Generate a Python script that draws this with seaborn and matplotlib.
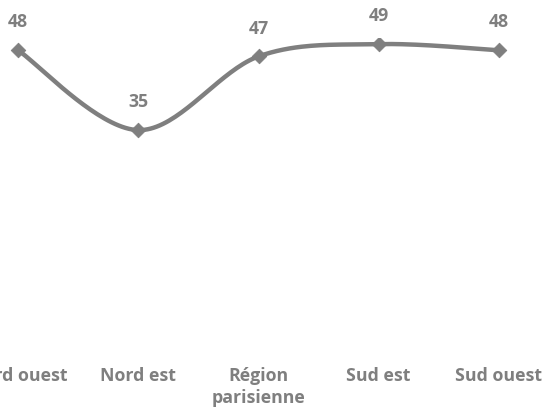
import numpy as np
import pandas as pd
import matplotlib
matplotlib.use("Agg")
import matplotlib.pyplot as plt
import seaborn as sns

categories = ["Nord ouest", "Nord est", "Région\nparisienne", "Sud est", "Sud ouest"]
values = [48, 35, 47, 49, 48]

sns.set_theme(style="white")
plt.rcParams['font.family'] = ['Open Sans', 'DejaVu Sans']
GRAY = "#7f7f7f"

W, H = 544, 411
fig = plt.figure(figsize=(W / 100, H / 100), dpi=100)
left_px, right_px = -42, 559
top_px, bottom_px = 38, 345
ax = fig.add_axes([left_px / W, 1 - bottom_px / H, (right_px - left_px) / W, (bottom_px - top_px) / H])

x = np.arange(len(values), dtype=float)
y = np.array(values, dtype=float)

# Bezier smoothing (Excel-like) computed from the data
xs, ys = [], []
P = np.column_stack([x, y])
n = len(P)
for i in range(n - 1):
    p0 = P[i - 1] if i > 0 else P[i]
    p1 = P[i]
    p2 = P[i + 1]
    p3 = P[i + 2] if i + 2 < n else P[i + 1]
    c1 = p1 + (p2 - p0) / 6
    c2 = p2 - (p3 - p1) / 6
    t = np.linspace(0, 1, 40)[:, None]
    seg = (1 - t) ** 3 * p1 + 3 * (1 - t) ** 2 * t * c1 + 3 * (1 - t) * t ** 2 * c2 + t ** 3 * p2
    xs.extend(seg[:, 0]); ys.extend(seg[:, 1])

smooth = pd.DataFrame({"x": xs, "y": ys})
sns.lineplot(data=smooth, x="x", y="y", ax=ax, color=GRAY, linewidth=3.2, sort=False, estimator=None)
df = pd.DataFrame({"x": x, "y": y})
sns.scatterplot(data=df, x="x", y="y", ax=ax, color=GRAY, marker="D", s=55, edgecolor=GRAY, zorder=3)

for xi, yi in zip(x, y):
    ax.annotate(f"{int(yi)}", (xi, yi), xytext=(0, 16.5), textcoords="offset points",
                ha="center", va="baseline", fontsize=12.8, fontweight="bold", color=GRAY)

ax.set_xlim(-0.5, len(values) - 0.5)
ax.set_ylim(0, 50)
ax.set_xticks(x)
ax.set_xticklabels(categories, fontsize=12.8, fontweight="bold", color=GRAY, linespacing=1.3)
ax.tick_params(axis="x", length=0, pad=16)
ax.set_yticks([])
ax.set_xlabel("")
ax.set_ylabel("")
for s in ax.spines.values():
    s.set_visible(False)
ax.patch.set_alpha(0)

fig.savefig("out.png", dpi=100)
